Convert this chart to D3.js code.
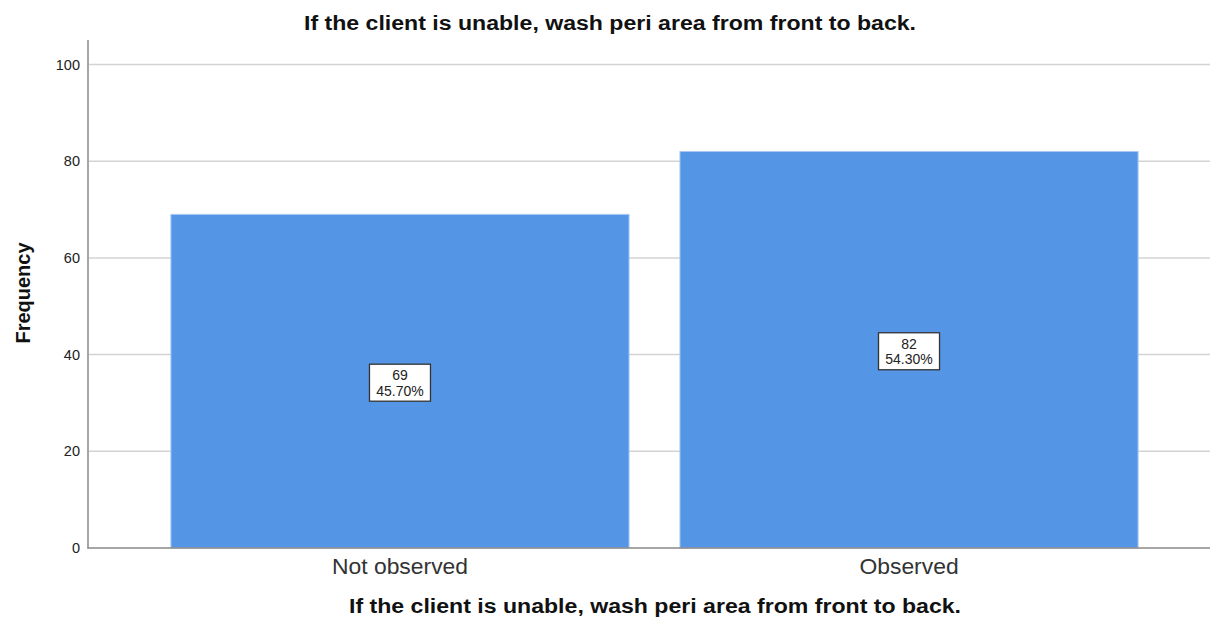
<!DOCTYPE html>
<html><head><meta charset="utf-8">
<script src="https://cdn.jsdelivr.net/npm/d3@7"></script>
<style>body{margin:0;background:#fff}svg{display:block}</style>
</head><body>
<svg id="c" width="1210" height="619"></svg>
<script>
const categories = ["Not observed", "Observed"];
const counts = [69, 82];
const percents = ["45.70%", "54.30%"];
const yTicks = [0, 20, 40, 60, 80, 100];
const titleText = "If the client is unable, wash peri area from front to back.";
const yLabel = "Frequency";

const svg = d3.select("#c");
const font = "'Liberation Sans', Arial, sans-serif";
const y = d3.scaleLinear().domain([0, 100]).range([548, 64.5]);
const x = d3.scaleBand().domain(categories).range([120, 1189]).paddingInner(0.1).paddingOuter(0.1);

// gridlines
svg.append("g").selectAll("line").data(yTicks.filter(d => d > 0)).join("line")
  .attr("x1", 89).attr("x2", 1210).attr("y1", d => y(d)).attr("y2", d => y(d))
  .attr("stroke", "#d3d3d3").attr("stroke-width", 1.5);

// bars
svg.append("g").selectAll("rect").data(counts).join("rect")
  .attr("x", (d, i) => x(categories[i])).attr("width", x.bandwidth())
  .attr("y", d => y(d)).attr("height", d => y(0) - y(d))
  .attr("fill", "#5595e5").attr("stroke", "#a9c9f2").attr("stroke-width", 1);

// y axis
const yAxis = d3.axisLeft(y).tickValues(yTicks).tickSize(0).tickPadding(8);
const gy = svg.append("g").attr("transform", "translate(88,0)").call(yAxis);
gy.select(".domain").remove();
gy.selectAll("text").attr("font-family", font).attr("font-size", 14.5).attr("fill", "#222");
svg.append("line").attr("x1", 88).attr("x2", 88).attr("y1", 40).attr("y2", 548.5)
  .attr("stroke", "#888").attr("stroke-width", 1.5);

// x axis
const xAxis = d3.axisBottom(x).tickSize(0).tickPadding(10);
const gx = svg.append("g").attr("transform", "translate(0,548)").call(xAxis);
gx.select(".domain").remove();
gx.selectAll("text").attr("font-family", font).attr("font-size", 22).attr("fill", "#333")
  .attr("transform", "scale(1.04,1)");
svg.append("line").attr("x1", 87.5).attr("x2", 1210).attr("y1", 548).attr("y2", 548)
  .attr("stroke", "#888").attr("stroke-width", 1.5);

// data labels
const lab = svg.append("g").selectAll("g").data(counts).join("g")
  .attr("transform", (d, i) => `translate(${x(categories[i]) + x.bandwidth() / 2},${y(d / 2)})`);
lab.append("rect").attr("x", -30.5).attr("y", -17).attr("width", 61).attr("height", 37)
  .attr("fill", "#fff").attr("stroke", "#333").attr("stroke-width", 1.3);
lab.append("text").attr("text-anchor", "middle").attr("y", -1).text(d => d)
  .attr("font-family", font).attr("font-size", 14).attr("fill", "#222");
lab.append("text").attr("text-anchor", "middle").attr("y", 14.5).text((d, i) => percents[i])
  .attr("font-family", font).attr("font-size", 14).attr("fill", "#222");

// titles
svg.append("text").attr("transform", "translate(610,30) scale(1.1,1)").attr("text-anchor", "middle")
  .attr("font-family", font).attr("font-weight", "bold").attr("font-size", 21).attr("fill", "#111").text(titleText);
svg.append("text").attr("transform", "translate(655,613) scale(1.1,1)").attr("text-anchor", "middle")
  .attr("font-family", font).attr("font-weight", "bold").attr("font-size", 21).attr("fill", "#111").text(titleText);
svg.append("text").attr("transform", "translate(30,293) rotate(-90)").attr("text-anchor", "middle")
  .attr("font-family", font).attr("font-weight", "bold").attr("font-size", 20).attr("fill", "#111").text(yLabel);
</script>
</body></html>
